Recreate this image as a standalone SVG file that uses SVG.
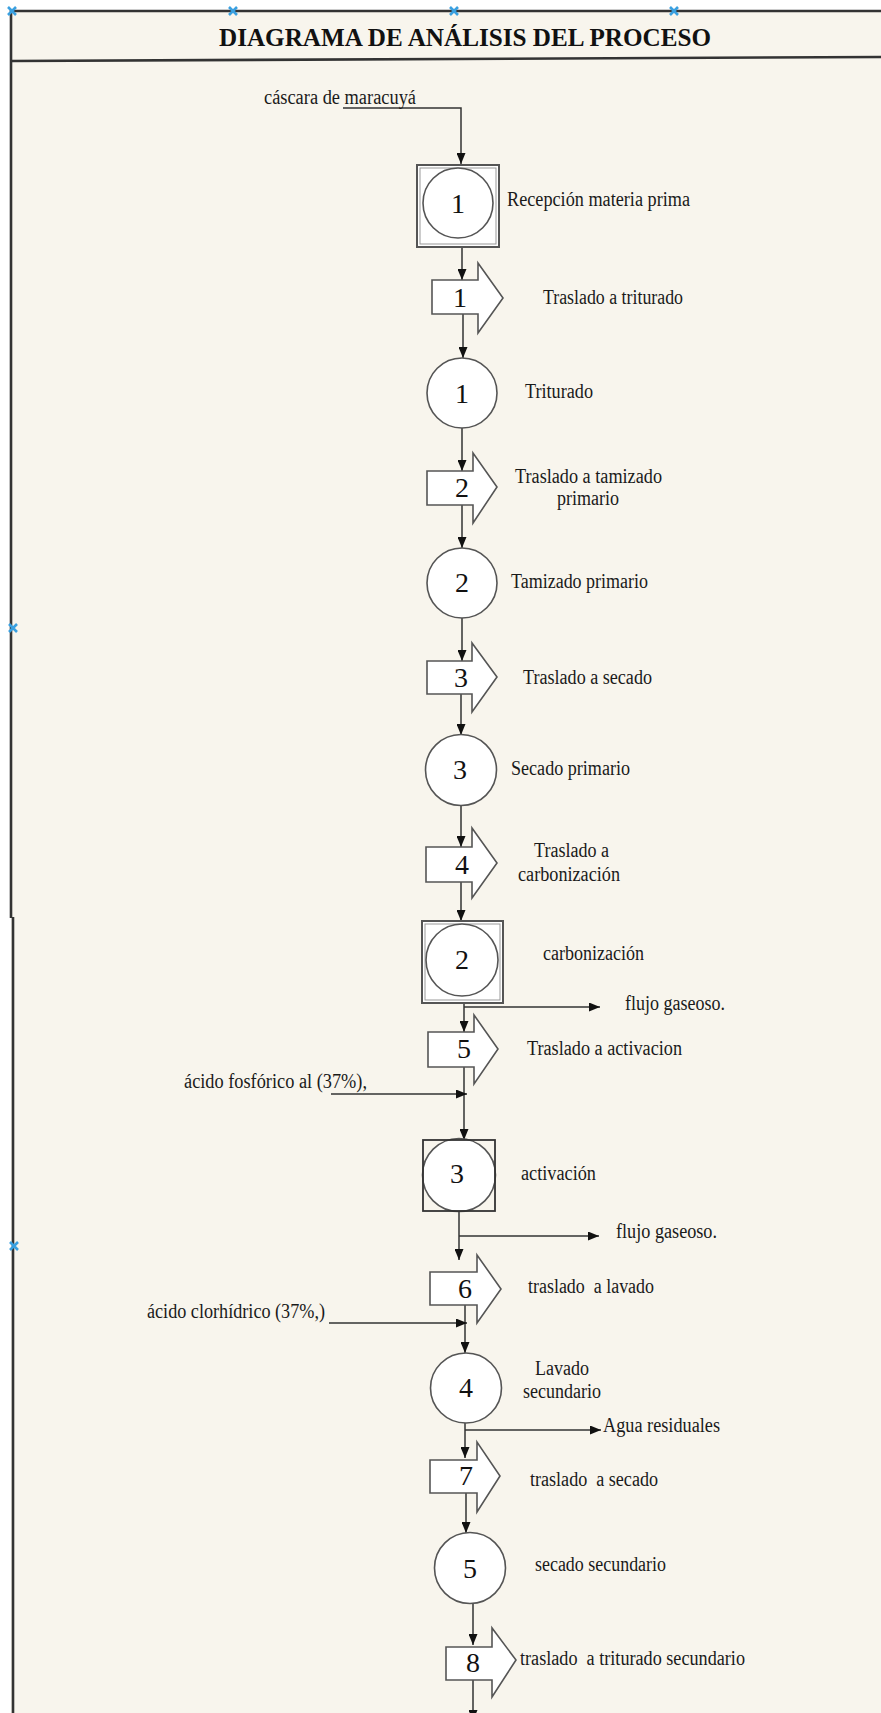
<svg xmlns="http://www.w3.org/2000/svg" width="881" height="1713" viewBox="0 0 881 1713">
<style>
.lbl{font-family:"Liberation Serif","Times New Roman",serif;font-size:20px;fill:#1a1a1a;white-space:pre}
.num{font-family:"Liberation Serif","Times New Roman",serif;font-size:28px;fill:#111;text-anchor:middle}
.title{font-family:"Liberation Serif","Times New Roman",serif;font-size:25px;font-weight:bold;fill:#111}
.shape{fill:#fff;stroke:#555;stroke-width:1.6}
.box{fill:#fff;stroke:#555;stroke-width:2}
.inner{fill:none;stroke:#999;stroke-width:1}
.conn{fill:none;stroke:#333;stroke-width:1.5;marker-end:url(#ah)}
.frame{stroke:#333;stroke-width:2.6;fill:none}
.handle{stroke:#3aa0e0;stroke-width:2.6;fill:none}
</style>
<defs>
<marker id="ah" markerUnits="userSpaceOnUse" markerWidth="11" markerHeight="9" refX="11" refY="4.5" orient="auto">
<path d="M0,0 L11,4.5 L0,9 z" fill="#111"/>
</marker>
</defs>
<rect x="0" y="0" width="881" height="1713" fill="#fff"/>
<rect x="11" y="11" width="870" height="1702" fill="#f8f5ed"/>
<g id="frame">
<line class="frame" x1="11" y1="11" x2="881" y2="11"/>
<line class="frame" x1="11" y1="61" x2="881" y2="57"/>
<line class="frame" x1="11" y1="10" x2="11" y2="918"/>
<line class="frame" x1="13" y1="917" x2="13" y2="1713"/>
<text class="title" x="219" y="46" textLength="492" lengthAdjust="spacingAndGlyphs">DIAGRAMA DE ANÁLISIS DEL PROCESO</text>
</g>
<g id="handles">
<path class="handle" d="M8,7 l8,8 M16,7 l-8,8"/>
<path class="handle" d="M229,7 l8,8 M237,7 l-8,8"/>
<path class="handle" d="M450,7 l8,8 M458,7 l-8,8"/>
<path class="handle" d="M670,7 l8,8 M678,7 l-8,8"/>
<path class="handle" d="M9,624 l8,8 M17,624 l-8,8"/>
<path class="handle" d="M10,1242 l8,8 M18,1242 l-8,8"/>
</g>
<g id="connectors">
<polyline class="conn" points="343,108 461,108 461,164"/>
<line class="conn" x1="462" y1="247" x2="462" y2="280"/>
<line class="conn" x1="463" y1="314" x2="463" y2="358"/>
<line class="conn" x1="462" y1="428" x2="462" y2="471"/>
<line class="conn" x1="462" y1="505" x2="462" y2="548"/>
<line class="conn" x1="462" y1="618" x2="462" y2="661"/>
<line class="conn" x1="461" y1="694" x2="461" y2="735"/>
<line class="conn" x1="461" y1="805" x2="461" y2="847"/>
<line class="conn" x1="461" y1="882" x2="461" y2="921"/>
<line class="conn" x1="464" y1="1003" x2="464" y2="1032"/>
<line class="conn" x1="464" y1="1007" x2="600" y2="1007"/>
<line class="conn" x1="464" y1="1067" x2="464" y2="1140"/>
<line class="conn" x1="331" y1="1094" x2="467" y2="1094"/>
<line class="conn" x1="459" y1="1211" x2="459" y2="1260"/>
<line class="conn" x1="459" y1="1236" x2="599" y2="1236"/>
<line class="conn" x1="465" y1="1305" x2="465" y2="1353"/>
<line class="conn" x1="329" y1="1323" x2="467" y2="1323"/>
<line class="conn" x1="465" y1="1423" x2="465" y2="1458"/>
<line class="conn" x1="465" y1="1430" x2="601" y2="1430"/>
<line class="conn" x1="466" y1="1493" x2="466" y2="1533"/>
<line class="conn" x1="473" y1="1604" x2="473" y2="1645"/>
<line class="conn" x1="473" y1="1680" x2="473" y2="1721"/>
</g>
<g id="input-cascara">
<text class="lbl" x="264" y="104" textLength="152" lengthAdjust="spacingAndGlyphs">cáscara de maracuyá</text>
</g>
<g id="op-box-1">
<rect class="box" x="417" y="165" width="82" height="82"/>
<rect class="inner" x="420" y="168" width="76" height="76"/>
<circle class="shape" cx="458" cy="203" r="35"/>
<text class="num" x="458" y="213">1</text>
<text class="lbl" x="507" y="206" textLength="183" lengthAdjust="spacingAndGlyphs">Recepción materia prima</text>
</g>
<g id="tr-1">
<polygon class="shape" points="432,280 478,280 478,263 503,298 478,333 478,314 432,314"/>
<text class="num" x="460" y="307">1</text>
<text class="lbl" x="543" y="304" textLength="140" lengthAdjust="spacingAndGlyphs">Traslado a triturado</text>
</g>
<g id="op-1">
<circle class="shape" cx="462" cy="393" r="35"/>
<text class="num" x="462" y="403">1</text>
<text class="lbl" x="525" y="398" textLength="68" lengthAdjust="spacingAndGlyphs">Triturado</text>
</g>
<g id="tr-2">
<polygon class="shape" points="427,471 473,471 473,453 497,487 473,523 473,505 427,505"/>
<text class="num" x="462" y="497">2</text>
<text class="lbl" x="515" y="483" textLength="147" lengthAdjust="spacingAndGlyphs">Traslado a tamizado</text>
<text class="lbl" x="557" y="505" textLength="62" lengthAdjust="spacingAndGlyphs">primario</text>
</g>
<g id="op-2">
<circle class="shape" cx="462" cy="583" r="35"/>
<text class="num" x="462" y="592">2</text>
<text class="lbl" x="511" y="588" textLength="137" lengthAdjust="spacingAndGlyphs">Tamizado primario</text>
</g>
<g id="tr-3">
<polygon class="shape" points="427,661 472,661 472,643 497,677 472,712 472,694 427,694"/>
<text class="num" x="461" y="687">3</text>
<text class="lbl" x="523" y="684" textLength="129" lengthAdjust="spacingAndGlyphs">Traslado a secado</text>
</g>
<g id="op-3">
<circle class="shape" cx="461" cy="770" r="35.5"/>
<text class="num" x="460" y="779">3</text>
<text class="lbl" x="511" y="775" textLength="119" lengthAdjust="spacingAndGlyphs">Secado primario</text>
</g>
<g id="tr-4">
<polygon class="shape" points="426,847 472,847 472,828 497,863 472,898 472,882 426,882"/>
<text class="num" x="462" y="874">4</text>
<text class="lbl" x="534" y="857" textLength="75" lengthAdjust="spacingAndGlyphs">Traslado a</text>
<text class="lbl" x="518" y="881" textLength="102" lengthAdjust="spacingAndGlyphs">carbonización</text>
</g>
<g id="op-box-2">
<rect class="box" x="422" y="921" width="81" height="82"/>
<rect class="inner" x="425" y="924" width="75" height="76"/>
<circle class="shape" cx="462" cy="960" r="36"/>
<text class="num" x="462" y="969">2</text>
<text class="lbl" x="543" y="960" textLength="101" lengthAdjust="spacingAndGlyphs">carbonización</text>
</g>
<g id="out-flujo-1">
<text class="lbl" x="625" y="1010" textLength="100" lengthAdjust="spacingAndGlyphs">flujo gaseoso.</text>
</g>
<g id="tr-5">
<polygon class="shape" points="428,1032 474,1032 474,1015 498,1049 474,1084 474,1067 428,1067"/>
<text class="num" x="464" y="1058">5</text>
<text class="lbl" x="527" y="1055" textLength="155" lengthAdjust="spacingAndGlyphs">Traslado a activacion</text>
</g>
<g id="input-fosforico">
<text class="lbl" x="184" y="1088" textLength="183" lengthAdjust="spacingAndGlyphs">ácido fosfórico al (37%),</text>
</g>
<g id="op-box-3">
<circle class="shape" cx="459" cy="1175" r="36.5"/>
<rect x="423" y="1140" width="72" height="71" fill="none" stroke="#333" stroke-width="1.8"/>
<text class="num" x="457" y="1183">3</text>
<text class="lbl" x="521" y="1180" textLength="75" lengthAdjust="spacingAndGlyphs">activación</text>
</g>
<g id="out-flujo-2">
<text class="lbl" x="616" y="1238" textLength="101" lengthAdjust="spacingAndGlyphs">flujo gaseoso.</text>
</g>
<g id="tr-6">
<polygon class="shape" points="430,1272 477,1272 477,1255 501,1289 477,1323 477,1305 430,1305"/>
<text class="num" x="465" y="1298">6</text>
<text class="lbl" x="528" y="1293" textLength="126" lengthAdjust="spacingAndGlyphs">traslado  a lavado</text>
</g>
<g id="input-clorhidrico">
<text class="lbl" x="147" y="1318" textLength="178" lengthAdjust="spacingAndGlyphs">ácido clorhídrico (37%,)</text>
</g>
<g id="op-4">
<ellipse class="shape" cx="466" cy="1388" rx="35.5" ry="35"/>
<text class="num" x="466" y="1397">4</text>
<text class="lbl" x="535" y="1375" textLength="54" lengthAdjust="spacingAndGlyphs">Lavado</text>
<text class="lbl" x="523" y="1398" textLength="78" lengthAdjust="spacingAndGlyphs">secundario</text>
</g>
<g id="out-agua">
<text class="lbl" x="603" y="1432" textLength="117" lengthAdjust="spacingAndGlyphs">Agua residuales</text>
</g>
<g id="tr-7">
<polygon class="shape" points="430,1460 477,1460 477,1442 500,1476 477,1512 477,1493 430,1493"/>
<text class="num" x="466" y="1485">7</text>
<text class="lbl" x="530" y="1486" textLength="128" lengthAdjust="spacingAndGlyphs">traslado  a secado</text>
</g>
<g id="op-5">
<circle class="shape" cx="470" cy="1568" r="35.5"/>
<text class="num" x="470" y="1578">5</text>
<text class="lbl" x="535" y="1571" textLength="131" lengthAdjust="spacingAndGlyphs">secado secundario</text>
</g>
<g id="tr-8">
<polygon class="shape" points="446,1647 492,1647 492,1628 516,1660 492,1697 492,1680 446,1680"/>
<text class="num" x="473" y="1672">8</text>
<text class="lbl" x="520" y="1665" textLength="225" lengthAdjust="spacingAndGlyphs">traslado  a triturado secundario</text>
</g>
</svg>
